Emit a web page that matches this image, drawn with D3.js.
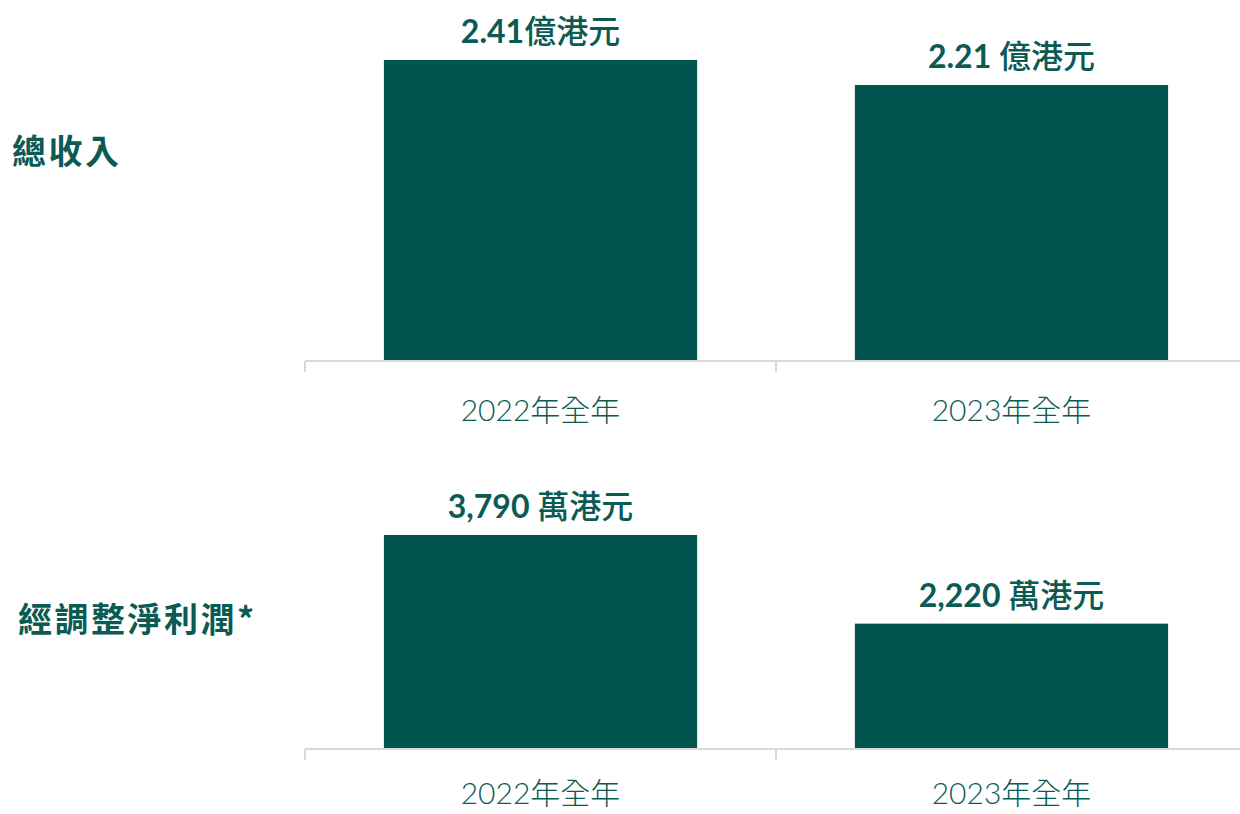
<!DOCTYPE html>
<html><head><meta charset="utf-8">
<script src="https://cdn.jsdelivr.net/npm/d3@7"></script>
<style>
html,body{margin:0;padding:0;background:#fff;}
svg{display:block;}
</style></head>
<body>
<svg id="chart" width="1240" height="814"></svg>
<script>
const categories = ["2022年全年", "2023年全年"];
const revenueValues = [2.41, 2.21];
const revenueLabels = ["2.41", "2.21 "];
const revenueUnit = "億港元";
const profitValues = [3790, 2220];
const profitLabels = ["3,790 ", "2,220 "];
const profitUnit = "萬港元";
const panelTitles = ["總收入", "經調整淨利潤*"];

const svg = d3.select("#chart");
const barColor = "#02544F";
const textColor = "#0B5B54";
const axisColor = "#d9d9d9";

const x = d3.scaleBand().domain(categories).range([305, 1247]).paddingInner(0.335).paddingOuter(0.1675);

function panel(values, labels, unit, title, baseY, topY, titleY, titleX, catOffset) {
  const g = svg.append("g");
  const y = d3.scaleLinear().domain([0, d3.max(values)]).range([baseY, topY]);
  g.selectAll("rect").data(values).enter().append("rect")
    .attr("x", (d, i) => x(categories[i]))
    .attr("width", x.bandwidth())
    .attr("y", d => y(d))
    .attr("height", d => y(0) - y(d) - 1)
    .attr("fill", barColor);
  const lab = g.selectAll("text.val").data(values).enter().append("text")
    .attr("class", "val")
    .attr("x", (d, i) => x(categories[i]) + x.bandwidth() / 2)
    .attr("y", d => y(d) - 17)
    .attr("text-anchor", "middle")
    .attr("fill", textColor)
    .attr("xml:space", "preserve")
    .style("font-size", "32px");
  lab.append("tspan").text((d, i) => labels[i])
    .style("font-family", "Lato, 'Noto Sans CJK TC', sans-serif")
    .style("font-weight", 700)
    .style("white-space", "pre");
  lab.append("tspan").text(unit)
    .style("font-family", "'Noto Sans CJK TC', sans-serif")
    .style("font-weight", 500);

  // axis
  const ag = g.append("g").attr("transform", `translate(0,${baseY})`);
  ag.append("line").attr("x1", 305).attr("x2", 1247).attr("y1", 0).attr("y2", 0)
    .attr("stroke", axisColor).attr("stroke-width", 2);
  const tickXs = [305, 305 + x.step(), 305 + 2 * x.step()];
  ag.selectAll("line.tick").data(tickXs).enter().append("line")
    .attr("class", "tick")
    .attr("x1", d => d).attr("x2", d => d).attr("y1", 0).attr("y2", 11)
    .attr("stroke", axisColor).attr("stroke-width", 2);
  const cat = ag.selectAll("text.cat").data(categories).enter().append("text")
    .attr("class", "cat")
    .attr("x", d => x(d) + x.bandwidth() / 2)
    .attr("y", catOffset)
    .attr("text-anchor", "middle")
    .attr("fill", textColor)
    .style("font-size", "30px");
  cat.append("tspan").text(d => d.match(/^\d+/)[0])
    .style("font-family", "Lato, sans-serif")
    .style("font-weight", 300);
  cat.append("tspan").text(d => d.replace(/^\d+/, ""))
    .style("font-family", "'Noto Sans CJK TC', sans-serif")
    .style("font-weight", 300);

  g.append("text")
    .attr("x", titleX).attr("y", titleY)
    .attr("fill", textColor)
    .style("font-family", "'Noto Sans CJK TC', sans-serif")
    .style("font-weight", 700)
    .style("font-size", "34px")
    .style("letter-spacing", "2.5px")
    .text(title);
}

panel(revenueValues, revenueLabels, revenueUnit, panelTitles[0], 361, 60, 164, 12, 60);
panel(profitValues, profitLabels, profitUnit, panelTitles[1], 749, 535, 632, 18, 55);
</script>
</body></html>
